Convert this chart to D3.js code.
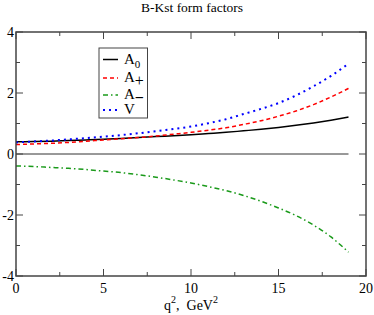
<!DOCTYPE html>
<html><head><meta charset="utf-8">
<script src="https://cdn.jsdelivr.net/npm/d3@7"></script>
<style>body{margin:0;background:#fff}svg{display:block}</style>
</head><body><svg id="c" width="374" height="315" font-family="'Liberation Serif','Times New Roman','DejaVu Serif',serif"></svg>
<script>
const q2 = [0,1,2,3,4,5,6,7,8,9,10,11,12,13,14,15,16,17,18,19];
const A0 = [0.40,0.41,0.42,0.44,0.46,0.48,0.51,0.54,0.57,0.60,0.63,0.67,0.71,0.76,0.81,0.87,0.94,1.02,1.11,1.21];
const Aplus = [0.31,0.33,0.35,0.38,0.42,0.46,0.50,0.54,0.59,0.65,0.71,0.78,0.86,0.97,1.09,1.24,1.41,1.62,1.87,2.15];
const Aminus = [-0.39,-0.41,-0.44,-0.47,-0.51,-0.56,-0.61,-0.68,-0.76,-0.85,-0.95,-1.07,-1.20,-1.36,-1.55,-1.77,-2.02,-2.33,-2.72,-3.22];
const V = [0.38,0.41,0.44,0.48,0.52,0.57,0.62,0.68,0.75,0.82,0.90,1.01,1.14,1.31,1.48,1.67,1.92,2.22,2.56,2.96];
const xTicks = [0,5,10,15,20];
const yTicks = [-4,-2,0,2,4];
const title = "B-Kst form factors";

const svg = d3.select("#c");
const L=16,R=366,T=32,B=276;
const x = d3.scaleLinear().domain([0,20]).range([L,R]);
const y = d3.scaleLinear().domain([-4,4]).range([B,T]);

svg.append("text").attr("x",192).attr("y",12).attr("text-anchor","middle").attr("font-size",13.5).text(title);

svg.append("line").attr("x1",x(0)).attr("x2",x(19)).attr("y1",y(0)).attr("y2",y(0)).attr("stroke","#333").attr("stroke-width",1);

const series = [
  {v:A0,color:"#000",dash:null,w:1.5},
  {v:Aplus,color:"#ff0000",dash:"4,3",w:1.5},
  {v:Aminus,color:"#1a9a1a",dash:"5,3,1.5,3",w:1.5},
  {v:V,color:"#0000ff",dash:"2,4",w:2}
];
const line = d3.line().x((d,i)=>x(q2[i])).y(d=>y(d)).curve(d3.curveMonotoneX);
series.forEach(s=>{
  svg.append("path").attr("d",line(s.v)).attr("fill","none").attr("stroke",s.color).attr("stroke-width",s.w).attr("stroke-dasharray",s.dash);
});

svg.append("rect").attr("x",L).attr("y",T).attr("width",R-L).attr("height",B-T).attr("fill","none").attr("stroke","#444").attr("stroke-width",1.5);

const g = svg.append("g").attr("stroke","#444").attr("stroke-width",1);
d3.range(0,20.01,2.5).forEach(v=>{
  const len = (v%5===0)?7:4;
  g.append("line").attr("x1",x(v)).attr("x2",x(v)).attr("y1",B).attr("y2",B-len);
  g.append("line").attr("x1",x(v)).attr("x2",x(v)).attr("y1",T).attr("y2",T+len);
});
d3.range(-4,4.01,1).forEach(v=>{
  const len = (v%2===0)?7:4;
  g.append("line").attr("y1",y(v)).attr("y2",y(v)).attr("x1",L).attr("x2",L+len);
  g.append("line").attr("y1",y(v)).attr("y2",y(v)).attr("x1",R).attr("x2",R-len);
});

xTicks.forEach(v=>{
  svg.append("text").attr("x",x(v)).attr("y",293).attr("text-anchor","middle").attr("font-size",14).text(v);
});
yTicks.forEach(v=>{
  svg.append("text").attr("x",14).attr("y",y(v)+5).attr("text-anchor","end").attr("font-size",14).text(v);
});

const xt = svg.append("text").attr("x",191).attr("y",310).attr("text-anchor","middle").attr("font-size",14);
xt.append("tspan").text("q");
xt.append("tspan").attr("dy",-7).attr("font-size",10).text("2");
xt.append("tspan").attr("dy",7).text(",\u00a0\u00a0GeV");
xt.append("tspan").attr("dy",-7).attr("font-size",10).text("2");

svg.append("rect").attr("x",99).attr("y",48).attr("width",48.5).attr("height",70).attr("fill","#fff").attr("stroke","#444").attr("stroke-width",1);
const leg = [
  {s:series[0],main:"A",sub:"0",yy:59.5},
  {s:series[1],main:"A",sub:"+",yy:78},
  {s:series[2],main:"A",sub:"\u2212",yy:95},
  {s:series[3],main:"V",sub:"",yy:110}
];
leg.forEach(e=>{
  svg.append("line").attr("x1",103).attr("x2",118).attr("y1",e.yy).attr("y2",e.yy).attr("stroke",e.s.color).attr("stroke-width",e.s.w).attr("stroke-dasharray",e.s.dash);
  const t = svg.append("text").attr("x",124).attr("y",e.yy+4).attr("font-size",15);
  t.append("tspan").text(e.main);
  if(e.sub) t.append("tspan").attr("dy",4).attr("font-size",e.sub==="0"?11:16).attr("font-weight",e.sub==="\u2212"?"bold":null).text(e.sub);
});
</script></body></html>
